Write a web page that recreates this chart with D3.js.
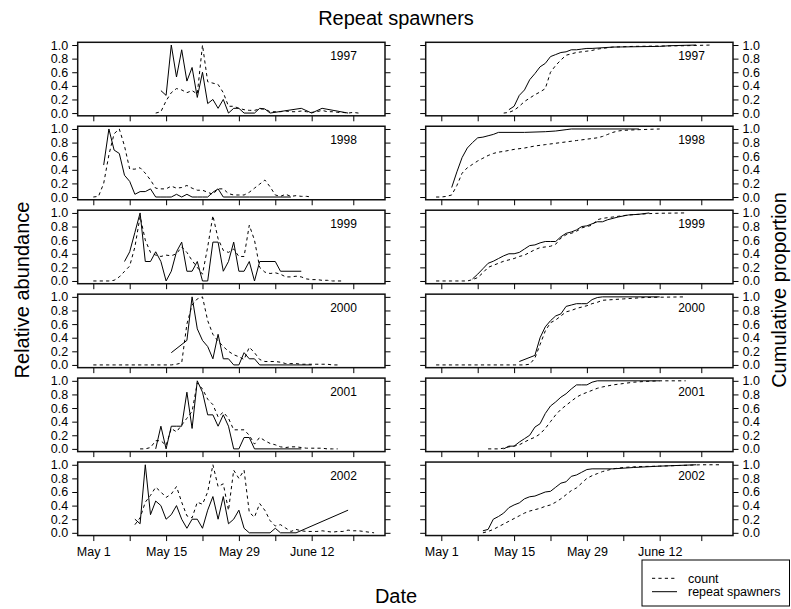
<!DOCTYPE html>
<html>
<head>
<meta charset="utf-8">
<script src="https://cdn.jsdelivr.net/npm/d3@7"></script>
<style>
  html, body { margin: 0; padding: 0; background: #fff; }
  svg text { font-family: "Liberation Sans", Arial, Helvetica, sans-serif; fill: #000; }
</style>
</head>
<body>
<svg id="chart" width="791" height="609"></svg>
<script>
// Days are counted from May 1 (day 0).
const years = ["1997", "1998", "1999", "2000", "2001", "2002"];
const tickDays = [0, 7, 14, 21, 28, 35, 42, 50];
const tickLabels = { 0: "May 1", 14: "May 15", 28: "May 29", 42: "June 12" };
const yTicks = [0, 0.2, 0.4, 0.6, 0.8, 1.0];

// Relative abundance: total count (dashed), [day, value]
const count1997 = [[12,0],[13,0.02],[14,0.18],[15,0.3],[16,0.36],[17,0.34],[18,0.3],[19,0.33],[20,0.28],[21,1.0],[22,0.46],[23,0.44],[24,0.42],[25,0.3],[26,0.1],[27,0.1],[28,0.07],[29,0.05],[30,0.04],[31,0.04],[32,0.06],[33,0.06],[34,0.02],[35,0.02],[36,0.02],[37,0.03],[38,0.02],[39,0.02],[40,0.03],[41,0.02],[42,0.01],[43,0.02],[44,0.04],[45,0.02],[46,0.02],[47,0.01],[48,0.01],[49,0],[50,0.01],[51,0]];
const count1998 = [[0,0],[1,0.01],[2,0.2],[3,0.62],[4,0.93],[5,1.0],[6,0.75],[7,0.41],[8,0.41],[9,0.43],[10,0.35],[11,0.25],[12,0.13],[13,0.12],[14,0.12],[15,0.16],[16,0.13],[17,0.14],[18,0.17],[19,0.13],[20,0.1],[21,0.1],[22,0.07],[23,0.04],[24,0.12],[25,0.12],[26,0.05],[27,0.03],[28,0.03],[29,0.03],[30,0.07],[31,0.13],[32,0.19],[33,0.25],[34,0.15],[35,0.03],[36,0.01],[37,0.04],[38,0.01],[39,0.02],[40,0.01],[41,0.01],[42,0]];
const count1999 = [[0,0],[1,0],[2,0],[3,0],[4,0.01],[5,0.06],[6,0.14],[7,0.22],[8,0.5],[9,0.95],[10,0.6],[11,0.42],[12,0.38],[13,0.36],[14,0.38],[15,0.37],[16,0.4],[17,0.5],[18,0.42],[19,0.3],[20,0.2],[21,0.1],[22,0.5],[23,0.96],[24,0.62],[25,0.45],[26,0.42],[27,0.47],[28,0.36],[29,0.36],[30,0.82],[31,0.6],[32,0.2],[33,0.13],[34,0.11],[35,0.12],[36,0.1],[37,0.06],[38,0.06],[39,0.07],[40,0.06],[41,0.03],[42,0.02],[43,0.02],[44,0.01],[45,0.01],[46,0],[47,0],[48,0]];
const count2000 = [[0,0],[1,0],[2,0],[3,0],[4,0],[5,0],[6,0],[7,0],[8,0],[9,0],[10,0],[11,0],[12,0],[13,0],[14,0],[15,0],[16,0.01],[17,0.03],[18,0.6],[19,0.88],[20,0.97],[21,1.0],[22,0.65],[23,0.45],[24,0.35],[25,0.27],[26,0.2],[27,0.15],[28,0.12],[29,0.08],[30,0.26],[31,0.18],[32,0.08],[33,0.05],[34,0.05],[35,0.05],[36,0.04],[37,0.02],[38,0.02],[39,0.02],[40,0.01],[41,0.01],[42,0.01],[43,0.01],[44,0.01],[45,0.01],[46,0],[47,0]];
const count2001 = [[9,0],[10,0],[11,0.02],[12,0.12],[13,0.12],[14,0.05],[15,0.3],[16,0.25],[17,0.35],[18,0.45],[19,0.55],[20,0.97],[21,0.88],[22,0.73],[23,0.65],[24,0.47],[25,0.54],[26,0.45],[27,0.28],[28,0.28],[29,0.28],[30,0.2],[31,0.07],[32,0.17],[33,0.12],[34,0.08],[35,0.06],[36,0.03],[37,0.02],[38,0.03],[39,0.03],[40,0.02],[41,0.01],[42,0.01],[43,0.01],[44,0.01],[45,0],[46,0],[47,0]];
const count2002 = [[8,0.12],[9,0.22],[10,0.45],[11,0.55],[12,0.67],[13,0.6],[14,0.52],[15,0.57],[16,0.68],[17,0.45],[18,0.25],[19,0.22],[20,0.45],[21,0.42],[22,0.6],[23,1.0],[24,0.68],[25,0.72],[26,0.33],[27,0.92],[28,0.8],[29,0.92],[30,0.3],[31,0.23],[32,0.43],[33,0.33],[34,0.18],[35,0.1],[36,0.12],[37,0.07],[38,0.02],[39,0.05],[40,0.03],[41,0.02],[42,0.02],[43,0.02],[44,0.03],[45,0.02],[46,0.01],[47,0.02],[48,0.02],[49,0.04],[50,0.03],[51,0.03],[52,0.02],[53,0.01],[54,0]];

// Relative abundance: repeat spawners (solid), [day, value]
const rep1997 = [[13,0.33],[14,0.26],[15,1.0],[16,0.53],[17,0.93],[18,0.47],[19,0.67],[20,0.23],[21,0.6],[22,0.14],[23,0.2],[24,0.07],[25,0.2],[26,0],[27,0.07],[28,0.07],[29,0],[31,0],[32,0.07],[33,0.06],[34,0],[40,0.07],[42,0],[44,0.07],[49,0]];
const rep1998 = [[2,0.47],[3,1.0],[4,0.69],[5,0.64],[6,0.32],[7,0.23],[8,0.04],[9,0.08],[10,0.08],[11,0.12],[12,0],[13,0],[14,0],[15,0],[16,0.04],[17,0],[18,0.04],[19,0],[20,0],[21,0],[22,0],[23,0.07],[24,0.12],[25,0],[30,0],[38,0]];
const rep1999 = [[6,0.286],[7,0.429],[8,0.714],[9,1.0],[10,0.286],[11,0.286],[12,0.429],[13,0.286],[14,0],[15,0.143],[16,0.429],[17,0.571],[18,0.143],[19,0.143],[20,0.286],[21,0],[22,0],[23,0.571],[24,0.571],[25,0.143],[26,0.286],[27,0.571],[28,0.143],[29,0.143],[30,0.286],[31,0],[32,0.286],[35,0.286],[36,0.143],[40,0.143]];
const rep2000 = [[15,0.18],[18,0.36],[19,1.0],[20,0.53],[21,0.36],[22,0.27],[23,0.09],[24,0.45],[25,0.09],[26,0.09],[27,0],[28,0],[29,0.18],[30,0.09],[31,0.09],[32,0],[42,0]];
const rep2001 = [[12,0],[13,0.333],[14,0],[15,0.333],[16,0.333],[17,0.333],[18,0.833],[19,0.3],[20,1.0],[21,0.833],[22,0.5],[23,0.5],[24,0.333],[25,0.5],[26,0.333],[27,0],[28,0],[29,0.167],[30,0.167],[31,0],[40,0]];
const rep2002 = [[8,0.2],[9,0.133],[10,1.0],[11,0.267],[12,0.467],[13,0.4],[14,0.2],[15,0.267],[16,0.4],[17,0.2],[18,0.067],[19,0.2],[20,0.2],[21,0.067],[22,0.333],[23,0.533],[24,0.2],[25,0.533],[26,0.133],[27,0.2],[28,0.333],[29,0.067],[30,0],[34,0],[35,0.067],[36,0],[39,0],[49,0.333]];

// Cumulative proportion: total count (dashed)
const cumCount1997 = [[12,0],[13,0.01],[14,0.04],[15,0.1],[16,0.17],[17,0.22],[18,0.27],[19,0.31],[20,0.36],[21,0.6],[22,0.7],[23,0.78],[24,0.85],[25,0.87],[26,0.89],[27,0.9],[28,0.91],[29,0.92],[30,0.94],[31,0.95],[32,0.96],[33,0.97],[37,0.98],[42,0.985],[47,0.99],[52,1.0]];
const cumCount1998 = [[-1,0],[0,0],[1,0.01],[2,0.03],[3,0.17],[4,0.35],[5,0.43],[6,0.48],[7,0.53],[8,0.57],[9,0.61],[10,0.64],[11,0.66],[12,0.67],[14,0.7],[16,0.72],[18,0.75],[20,0.77],[22,0.79],[24,0.81],[26,0.83],[28,0.85],[30,0.87],[31,0.89],[32,0.92],[33,0.95],[34,0.97],[35,0.98],[38,0.99],[42,1.0]];
const cumCount1999 = [[-1,0],[0,0],[1,0],[2,0],[3,0],[4,0],[5,0],[6,0.02],[7,0.05],[8,0.12],[9,0.2],[10,0.23],[11,0.26],[12,0.29],[13,0.31],[14,0.33],[15,0.36],[16,0.38],[17,0.42],[18,0.46],[19,0.49],[20,0.5],[21,0.51],[22,0.54],[23,0.63],[24,0.68],[25,0.7],[26,0.73],[27,0.78],[28,0.8],[29,0.82],[30,0.9],[31,0.92],[32,0.93],[33,0.94],[34,0.95],[36,0.97],[38,0.98],[40,0.99],[42,0.995],[47,1.0]];
const cumCount2000 = [[-1,0],[0,0],[2,0],[4,0],[6,0],[8,0],[10,0],[12,0],[14,0],[16,0],[17,0.01],[18,0.1],[19,0.3],[20,0.5],[21,0.62],[22,0.66],[23,0.72],[24,0.78],[25,0.8],[26,0.83],[27,0.85],[28,0.87],[29,0.9],[30,0.92],[31,0.95],[33,0.96],[35,0.97],[37,0.98],[39,0.99],[42,0.995],[47,1.0]];
const cumCount2001 = [[9,0],[10,0],[11,0],[12,0.01],[13,0.03],[14,0.04],[15,0.06],[16,0.1],[17,0.14],[18,0.17],[19,0.22],[20,0.3],[21,0.4],[22,0.5],[23,0.58],[24,0.64],[25,0.7],[26,0.76],[27,0.8],[28,0.83],[29,0.86],[30,0.89],[31,0.91],[33,0.94],[35,0.96],[37,0.98],[39,0.99],[42,1.0],[47,1.0]];
const cumCount2002 = [[8,0],[9,0.02],[10,0.05],[11,0.09],[12,0.13],[13,0.17],[14,0.21],[15,0.25],[16,0.29],[17,0.32],[18,0.34],[19,0.36],[20,0.39],[21,0.41],[22,0.45],[23,0.5],[24,0.56],[25,0.62],[26,0.66],[27,0.73],[28,0.8],[29,0.84],[30,0.87],[31,0.9],[33,0.94],[35,0.96],[37,0.97],[39,0.975],[42,0.98],[46,0.99],[50,1.0],[54,1.0]];

// Cumulative proportion: repeat spawners (solid)
const cumRep1997 = [[13,0.05],[14,0.1],[15,0.26],[16,0.34],[17,0.49],[18,0.58],[19,0.68],[20,0.73],[21,0.83],[22,0.86],[23,0.89],[24,0.9],[25,0.93],[26,0.93],[27,0.94],[28,0.95],[29,0.95],[33,0.97],[42,0.98],[44,0.99],[49,1.0]];
const cumRep1998 = [[2,0.14],[3,0.37],[4,0.58],[5,0.72],[6,0.8],[7,0.87],[8,0.88],[9,0.9],[10,0.92],[11,0.95],[16,0.95],[20,0.96],[22,0.97],[24,0.99],[25,1.0],[38,1.0]];
const cumRep1999 = [[6,0.03],[7,0.1],[8,0.18],[9,0.26],[10,0.29],[11,0.33],[12,0.37],[13,0.4],[14,0.4],[15,0.42],[16,0.47],[17,0.52],[18,0.53],[19,0.56],[20,0.58],[21,0.58],[22,0.58],[23,0.65],[24,0.7],[25,0.72],[26,0.75],[27,0.8],[28,0.81],[29,0.84],[30,0.87],[31,0.87],[32,0.9],[34,0.94],[36,0.97],[38,0.98],[40,1.0]];
const cumRep2000 = [[15,0.05],[18,0.14],[19,0.4],[20,0.56],[21,0.65],[22,0.72],[23,0.75],[24,0.86],[25,0.88],[26,0.9],[27,0.9],[28,0.9],[29,0.96],[30,0.99],[31,1.0],[42,1.0]];
const cumRep2001 = [[12,0],[13,0.04],[14,0.04],[15,0.1],[16,0.15],[17,0.2],[18,0.32],[19,0.37],[20,0.52],[21,0.63],[22,0.69],[23,0.76],[24,0.81],[25,0.88],[26,0.94],[27,0.94],[28,0.94],[29,0.98],[30,1.0],[42,1.0]];
const cumRep2002 = [[8,0.03],[9,0.05],[10,0.2],[11,0.24],[12,0.29],[13,0.37],[14,0.41],[15,0.44],[16,0.5],[17,0.53],[18,0.54],[19,0.57],[20,0.6],[21,0.61],[22,0.67],[23,0.73],[24,0.75],[25,0.83],[26,0.85],[27,0.89],[28,0.93],[29,0.94],[33,0.94],[37,0.96],[42,0.98],[49,1.0]];

const countRel = [count1997, count1998, count1999, count2000, count2001, count2002];
const repRel = [rep1997, rep1998, rep1999, rep2000, rep2001, rep2002];
const countCum = [cumCount1997, cumCount1998, cumCount1999, cumCount2000, cumCount2001, cumCount2002];
const repCum = [cumRep1997, cumRep1998, cumRep1999, cumRep2000, cumRep2001, cumRep2002];

// Layout
const svg = d3.select("#chart");
const leftX = [77.7, 385];
const rightX = [425.7, 733];
const rowTop0 = 42.3, rowStep = 83.95, rowH = 73.5;
const dayDomain = [-3.0, 56.1];
const valDomain = [-0.04, 1.04];
const tickLen = 5.5;
const dash = "3.2,3.2";

const xLeft = d3.scaleLinear().domain(dayDomain).range(leftX);
const xRight = d3.scaleLinear().domain(dayDomain).range(rightX);

function panel(x, rowIdx, dashedData, solidData, labelSide, yearLabel, yearCx) {
  const top = rowTop0 + rowIdx * rowStep;
  const y = d3.scaleLinear().domain(valDomain).range([top + rowH, top]);
  const g = svg.append("g");
  const line = d3.line().x(d => x(d[0])).y(d => y(d[1]));

  g.append("path").attr("d", line(dashedData))
    .attr("fill", "none").attr("stroke", "#000").attr("stroke-width", 1)
    .attr("stroke-dasharray", dash);
  g.append("path").attr("d", line(solidData))
    .attr("fill", "none").attr("stroke", "#000").attr("stroke-width", 1);

  // Bottom axis: ticks on every row, labels only on the last one
  const isLast = rowIdx === years.length - 1;
  const xAxis = d3.axisBottom(x).tickValues(tickDays).tickSizeOuter(0).tickSizeInner(tickLen).tickPadding(6)
    .tickFormat(d => isLast ? (tickLabels[d] || "") : "");
  const gx = g.append("g").attr("transform", `translate(0,${top + rowH})`).call(xAxis);
  gx.select(".domain").remove();
  gx.selectAll("line").attr("stroke", "#000");
  gx.selectAll("text").attr("font-size", 12.5).attr("fill", "#000").attr("font-family", "Liberation Sans, Arial, sans-serif");

  // Y ticks on both sides; labels on the outer side
  const r = x.range();
  const axL = d3.axisLeft(y).tickValues(yTicks).tickSizeOuter(0).tickSizeInner(tickLen).tickPadding(4)
    .tickFormat(d => labelSide === "left" ? d3.format(".1f")(d) : "");
  const axR = d3.axisRight(y).tickValues(yTicks).tickSizeOuter(0).tickSizeInner(tickLen).tickPadding(4)
    .tickFormat(d => labelSide === "right" ? d3.format(".1f")(d) : "");
  const gl = g.append("g").attr("transform", `translate(${r[0]},0)`).call(axL);
  const gr = g.append("g").attr("transform", `translate(${r[1]},0)`).call(axR);
  [gl, gr].forEach(a => {
    a.select(".domain").remove();
    a.selectAll("line").attr("stroke", "#000");
    a.selectAll("text").attr("font-size", 12.5).attr("fill", "#000").attr("font-family", "Liberation Sans, Arial, sans-serif");
  });

  // Panel frame
  g.append("rect").attr("x", r[0]).attr("y", top).attr("width", r[1] - r[0]).attr("height", rowH)
    .attr("fill", "none").attr("stroke", "#111").attr("stroke-width", 1.5);

  g.append("text").attr("x", yearCx).attr("y", top + 17.5).attr("text-anchor", "middle")
    .attr("font-size", 12).text(yearLabel);
}

years.forEach((yr, i) => {
  panel(xLeft, i, countRel[i], repRel[i], "left", yr, 343.5);
  panel(xRight, i, countCum[i], repCum[i], "right", yr, 691.5);
});

// Titles
svg.append("text").attr("x", 396).attr("y", 25).attr("text-anchor", "middle")
  .attr("font-size", 20).text("Repeat spawners");
svg.append("text").attr("x", 396).attr("y", 603).attr("text-anchor", "middle")
  .attr("font-size", 20).text("Date");
svg.append("text").attr("transform", "translate(29,290) rotate(-90)").attr("text-anchor", "middle")
  .attr("font-size", 20).text("Relative abundance");
svg.append("text").attr("transform", "translate(786,290) rotate(-90)").attr("text-anchor", "middle")
  .attr("font-size", 20).text("Cumulative proportion");

// Legend
const lg = svg.append("g");
lg.append("rect").attr("x", 642).attr("y", 560).attr("width", 147.5).attr("height", 46)
  .attr("fill", "#fff").attr("stroke", "#000").attr("stroke-width", 1);
const legendItems = [
  { label: "count", dashed: true, y: 578.3 },
  { label: "repeat spawners", dashed: false, y: 591.7 }
];
legendItems.forEach(it => {
  lg.append("line").attr("x1", 652).attr("x2", 677).attr("y1", it.y).attr("y2", it.y)
    .attr("stroke", "#000").attr("stroke-width", 1)
    .attr("stroke-dasharray", it.dashed ? dash : null);
  lg.append("text").attr("x", 688).attr("y", it.y + 4.3).attr("font-size", 12.5).text(it.label);
});
</script>
</body>
</html>
